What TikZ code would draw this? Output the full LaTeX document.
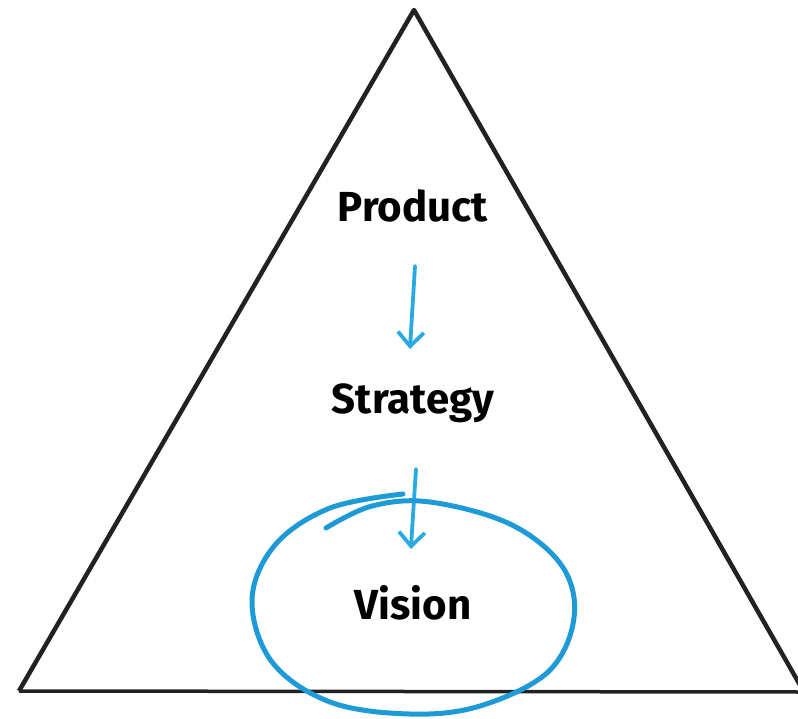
\documentclass[tikz,border=0pt]{standalone}
\usepackage{fontspec}
\setmainfont{Fira Sans}
\usetikzlibrary{arrows.meta}
\definecolor{ink}{HTML}{222222}
\definecolor{ring}{HTML}{1E9BD7}
\definecolor{arr}{HTML}{2AAAE2}
\begin{document}
\begin{tikzpicture}[x=1pt,y=-1pt,
  lbl/.style={font=\fontsize{42}{50}\selectfont\bfseries, text=black, inner sep=0pt, anchor=base},
  flow/.style={draw=arr, line width=3.8pt, line cap=round, -{Straight Barb[length=14pt,width=26pt,line width=3.8pt]}}]
\useasboundingbox (0,0) rectangle (798,718);
\coordinate (A) at (414,10);
\coordinate (L) at (19,691);
\coordinate (R) at (804,692);
\draw[ink, line width=4.5pt, line join=round] (L) -- (A) -- (R);
\draw[ink, line width=3.5pt] (L) -- (R);
\node[lbl] (p) at (413,221) {Product};
\node[lbl] (s) at (413,413) {Strategy};
\node[lbl] (v) at (413,619) {Vision};
\coordinate (a1s) at (415,266);
\coordinate (a1e) at (410,349);
\coordinate (a2s) at (416,469);
\coordinate (a2e) at (411,549);
\draw[flow] (a1s) .. controls (413,300) and (411,330) .. (a1e);
\draw[flow] (a2s) .. controls (414,500) and (412,530) .. (a2e);
\draw[ring, line width=5pt, line cap=round, line join=round]
  plot[smooth, tension=0.6] coordinates {(326,528) (372,506) (430,502) (510,524) (562,566) (574,618) (548,672) (480,706) (410,714) (330,702) (272,662) (252,600) (275,545) (330,508) (403,494)};
\end{tikzpicture}
\end{document}
